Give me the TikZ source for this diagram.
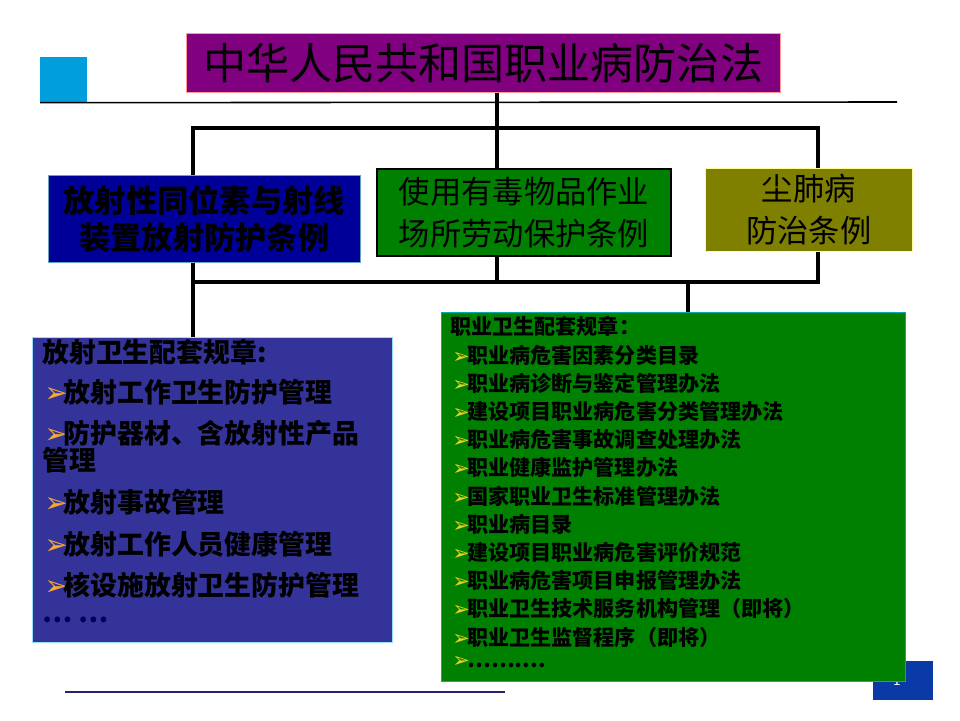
\documentclass[tikz,border=0pt]{standalone}
\usepackage{fontspec}
\newfontfamily\cjk{Noto Sans CJK SC}
\newfontfamily\symfont{DejaVu Sans}
\definecolor{lawpurple}{HTML}{800080}
\definecolor{radblue}{HTML}{000099}
\definecolor{toxgreen}{HTML}{008000}
\definecolor{dustolive}{HTML}{808000}
\definecolor{ruleblue}{HTML}{333399}
\definecolor{corner}{HTML}{009FDC}
\definecolor{pageblue}{HTML}{0A3AA6}
\definecolor{bulorange}{HTML}{F5A833}
\definecolor{bulyellow}{HTML}{E6D21E}
\newcommand{\lbul}{\smash{\fontsize{16}{16}\symfont\color{bulorange}➢}\hspace{-2.5pt}}
\newcommand{\rbul}{\smash{\fontsize{12}{12}\symfont\color{bulyellow}➢}\hspace{-1.5pt}}

\begin{document}
\begin{tikzpicture}[x=0.02cm, y=-0.02cm,
    box/.style={draw, inner sep=0pt, anchor=north west, align=center},
    bus/.style={line width=1.8pt},
    ltext/.style={anchor=west, inner sep=0pt, font=\cjk\bfseries\fontsize{15.3}{16}\selectfont},
    rtext/.style={anchor=west, inner sep=0pt, font=\cjk\bfseries\fontsize{12}{13}\selectfont}]
    \useasboundingbox (0,0) rectangle (960,720);

    % header
    \node[box, draw=none, fill=corner, minimum width=0.94cm, minimum height=0.9cm] (mark) at (40,57) {};
    \coordinate (hrule) at (897,102);
    \draw[line width=0.9pt] (mark.south west) -- (hrule);
    \node[box, fill=lawpurple, draw=red!40, minimum width=11.88cm, minimum height=1.18cm,
          font=\cjk\fontsize{24.5}{28}\selectfont] (law) at (186,33) {中华人民共和国职业病防治法};

    % regulations
    \node[box, fill=radblue, draw=cyan!50!gray, minimum width=6.24cm, minimum height=1.74cm,
          font=\cjk\bfseries\fontsize{17.8}{21}\selectfont] (reg1) at (48,175) {放射性同位素与射线\\装置放射防护条例};
    \node[box, fill=toxgreen, line width=1.2pt, minimum width=5.88cm, minimum height=1.74cm,
          font=\cjk\fontsize{17.8}{24}\selectfont] (reg2) at (376,168) {使用有毒物品作业\\场所劳动保护条例};
    \node[box, fill=dustolive, draw=yellow!40, minimum width=4.14cm, minimum height=1.66cm,
          font=\cjk\fontsize{17.8}{24}\selectfont] (reg3) at (705,168) {尘肺病\\防治条例};

    % upper bus
    \coordinate (up1) at (193,128);
    \coordinate (up2) at (497,128);
    \coordinate (up3) at (818,128);
    \draw[bus] (law.south -| up2) -- (up2);
    \draw[bus] (up1 |- reg1.north) -- (up1) -- (up3) -- (up3 |- reg3.north);
    \draw[bus] (up2) -- (up2 |- reg2.north);

    % supporting rules
    \node[box, fill=ruleblue, draw=cyan!40, minimum width=7.2cm, minimum height=6.1cm] (radrules) at (32,337) {};
    \node[box, draw=none, fill=pageblue, minimum width=1.2cm, minimum height=0.78cm] (page) at (873,661) {};
    \node[anchor=north, inner sep=0pt, text=white, font=\sffamily\fontsize{9}{9}\selectfont] (pageno) at (897,674) {1};
    \node[box, fill=toxgreen, draw=cyan!60!green, minimum width=9.28cm, minimum height=7.38cm] (occrules) at (441,312) {};

    % lower bus
    \coordinate (lo1) at (193,282);
    \coordinate (lo2) at (497,282);
    \coordinate (lo3) at (818,282);
    \coordinate (lo4) at (688,282);
    \draw[bus] (lo1 |- reg1.south) -- (lo1 |- radrules.north);
    \draw[bus] (lo1) -- (lo3) -- (lo3 |- reg3.south);
    \draw[bus] (lo2) -- (lo2 |- reg2.south);
    \draw[bus] (lo4) -- (lo4 |- occrules.north);

    % radiation rules
    \node[ltext] (rad0) at (42,352) {放射卫生配套规章:};
    \node[ltext] (rad1) at (44,392) {\lbul 放射工作卫生防护管理};
    \node[ltext] (rad2) at (44,433) {\lbul 防护器材、含放射性产品};
    \node[ltext] (rad2b) at (42,460) {管理};
    \node[ltext] (rad3) at (44,502) {\lbul 放射事故管理};
    \node[ltext] (rad4) at (44,544) {\lbul 放射工作人员健康管理};
    \node[ltext] (rad5) at (44,585) {\lbul 核设施放射卫生防护管理};
    \node[ltext, text=radblue!60!black] (rad6) at (42,620) {… …};

    % occupational health rules
    \node[rtext] (occ0) at (450,326) {职业卫生配套规章：};
    \foreach \t [count=\i from 0] in {职业病危害因素分类目录, 职业病诊断与鉴定管理办法,
        建设项目职业病危害分类管理办法, 职业病危害事故调查处理办法, 职业健康监护管理办法,
        国家职业卫生标准管理办法, 职业病目录, 建设项目职业病危害评价规范,
        职业病危害项目申报管理办法, 职业卫生技术服务机构管理（即将）,
        职业卫生监督程序（即将）, ……….}
        \node[rtext] (occ\i) at (452,355+28.2*\i) {\rbul\t};

    % footer
    \coordinate (foot) at (505,692);
    \draw[line width=0.8pt, color=ruleblue!70!black] (65,692) -- (foot);
\end{tikzpicture}
\end{document}
